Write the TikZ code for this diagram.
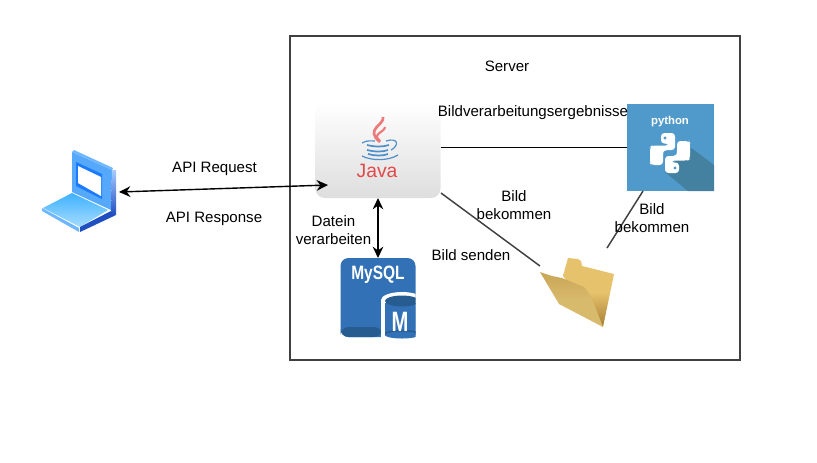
\documentclass[tikz,border=0pt]{standalone}
\usepackage{fontspec}
\setmainfont{Liberation Sans}
\usepackage{xcolor}
\usepackage{tikz}
\usetikzlibrary{
  positioning,
  arrows.meta,
  shadings
}
\definecolor{pyblue}{HTML}{4F99CB}
\definecolor{pyshade}{HTML}{44809F}
\definecolor{sqlblue}{HTML}{3371B7}
\definecolor{sqldark}{HTML}{265C90}
\definecolor{javared}{HTML}{E2494B}
\definecolor{javasteam}{HTML}{EC7A7A}
\definecolor{javablue}{HTML}{4E8FCB}
\definecolor{framegray}{HTML}{404040}
\definecolor{lapframe}{HTML}{55A8FA}
\definecolor{lapinner}{HTML}{1A7BFF}
\definecolor{lapbasetop}{HTML}{3FB2FF}
\definecolor{lapbasebot}{HTML}{A6DCFF}
\definecolor{lapstrip}{HTML}{6EB6FF}
\definecolor{lapdark}{HTML}{1F4FC0}
\definecolor{lapside}{HTML}{A8CBFF}
\definecolor{foldback}{HTML}{E6C26C}
\definecolor{folddark}{HTML}{A67E34}
\definecolor{foldfront}{HTML}{D8BA6C}
\definecolor{foldlow}{HTML}{C9A557}

\begin{document}
\begin{tikzpicture}[
  x=0.75pt,
  y=-0.75pt,
  font=\fontsize{11.3pt}{14pt}\selectfont,
  label/.style={
    align=center,
    inner sep=0pt,
    text=black
  },
  iconbox/.style={
    rectangle,
    inner sep=0pt,
    outer sep=0pt
  },
  arrow/.style={
    {Stealth[length=8.5pt,width=8pt]}-{Stealth[length=8.5pt,width=8pt]},
    line width=1.05pt,
    draw=black
  },
  link/.style={
    line width=1.05pt,
    draw=black
  },
  greylink/.style={
    line width=1.1pt,
    draw=framegray
  }
]

\useasboundingbox (0,0) rectangle (817,462);

\node[iconbox, draw=framegray, line width=1pt, minimum width=337.5pt, minimum height=243pt] (server) at (515,198) {};
\node[label] (servertxt) at (507,66.5) {Server};

\node[iconbox, minimum width=60pt, minimum height=63pt] (laptop) at (79,192) {};
\fill[lapframe] (72,152) -- (112,170) -- (111,210) -- (72,192) -- cycle;
\fill[lapinner] (76,162) -- (102,174) -- (102,199) -- (76,186) -- cycle;
\fill[white] (78,166) -- (101,177) -- (101,196) -- (78,183) -- cycle;
\fill[lapstrip] (74,150) -- (113,168) -- (112,170) -- (72,152) -- cycle;
\shade[top color=lapside, bottom color=lapdark] (112,170) -- (116,170) -- (116,215) -- (111,211) -- cycle;
\shade[top color=lapbasetop, bottom color=lapbasebot] (72,193) -- (108,210) -- (80,227) -- (43,208) -- cycle;
\fill[lapstrip] (42,208) -- (79,228) -- (79,232) -- (42,211) -- cycle;
\fill[lapdark] (80,232) -- (116,215) -- (111,211) -- (80,227) -- cycle;

\node[iconbox, rounded corners=7pt, top color=white, bottom color=black!13, minimum width=93.75pt, minimum height=72pt] (java) at (378,150) {};
\draw[javasteam, line width=2pt] (383,117) .. controls (385,125) and (364,129) .. (380,142);
\draw[javasteam, line width=1.6pt] (385,127) .. controls (385,132) and (371,134) .. (380,141);
\draw[javablue, line width=0.9pt] (362,143) .. controls (367,140) and (372,141) .. (375,141);
\draw[javablue, line width=0.9pt] (386,141) .. controls (399,137) and (399,146) .. (391,150);
\draw[javablue, line width=1.3pt] (367,145) .. controls (375,147) and (383,147) .. (389,145);
\draw[javablue, line width=1.3pt] (367,150) .. controls (375,152) and (383,152) .. (388,150);
\draw[javablue, line width=1.3pt] (368,154) .. controls (375,156) and (383,156) .. (388,154);
\draw[javablue, line width=0.9pt] (362,156) .. controls (372,161) and (388,161) .. (398,155);
\node[label, text=javared, font=\fontsize{14.5pt}{14.5pt}\selectfont] (javatxt) at (377,171) {Java};

\node[iconbox, fill=pyblue, minimum width=65.5pt, minimum height=65pt] (python) at (670.5,147.5) {};
\fill[pyshade] (690,147) -- (714,165) -- (714,191) -- (688,191) -- (665,172) -- cycle;
\node[label, text=white, font=\fontsize{8.5pt}{8.5pt}\selectfont\bfseries] (pythontxt) at (670,122) {python};
\foreach \turn in {0,180}{
  \begin{scope}[rotate around={\turn:(670,153)}]
    \fill[white, rounded corners=2.5pt] (661,133) -- (675,133) -- (675,150) -- (664,150) -- (663,152) -- (663,165) -- (651,165) -- (650,163) -- (650,147) -- (652,145.5) -- (669,145.5) -- (669,143.5) -- (661,143.5) -- cycle;
    \fill[pyblue] (665,138) circle (1.7);
  \end{scope}
}

\node[iconbox, rounded corners=6pt, fill=sqlblue, minimum width=56.25pt, minimum height=59.25pt] (mysql) at (378,297.5) {};
\begin{scope}
  \clip (335,250) rectangle (415.5,345);
  \fill[sqldark, rounded corners=6pt] (340.5,327) -- (340.5,337) -- (382,337) -- (382,327) -- cycle;
  \fill[white] (381,300) rectangle (423,338);
  \fill[white] (402,300) ellipse (21 and 8);
  \fill[sqlblue] (385,303) rectangle (419,335);
  \fill[sqlblue] (402,335) ellipse (17 and 3.5);
  \fill[sqldark] (402,301) ellipse (17 and 5.5);
  \fill[sqldark] (385,333) -- (385,335) arc (180:0:17 and -3.5) -- (419,333) arc (0:180:17 and -3) -- cycle;
\end{scope}
\node[label, text=white, font=\fontsize{14.5pt}{14.5pt}\selectfont\bfseries] (mysqltxt) at (378,275) {\scalebox{0.8}[1]{MySQL}};
\node[label, text=white, font=\fontsize{21pt}{21pt}\selectfont\bfseries] (mtxt) at (400,322) {\scalebox{0.72}[1]{M}};

\node[iconbox, minimum width=55.5pt, minimum height=52.5pt] (folder) at (577,293) {};
\shade[top color=foldback, bottom color=folddark, middle color=foldback] (563,276) -- (568,258) -- (578,259) -- (581,261) -- (582,266) -- (614,274) -- (603,327) -- cycle;
\shade[top color=foldlow, bottom color=foldfront, middle color=foldfront] (540,272) -- (552,276) -- (562,278) -- (584,287) .. controls (592,295) and (596,310) .. (603,327) -- (559,304) -- cycle;

\coordinate (javain) at (328,185);
\coordinate (javaout) at (441,193);
\coordinate (folderin) at (540,266);
\coordinate (folderup) at (607,248);
\coordinate (pythonout) at (643,191);

\draw[arrow] (laptop.east) -- (javain);
\draw[arrow] (java.south) -- (mysql.north);
\draw[link] (java.east |- python.west) -- (python.west);
\draw[greylink] (javaout) -- (folderin);
\draw[greylink] (folderup) -- (pythonout);

\node[label] (requesttxt) at (214.5,168.5) {API Request};
\node[label] (responsetxt) at (214,218.5) {API Response};
\node[label] (dateitxt) at (333.5,230) {Datein\\verarbeiten};
\node[label] (bildtxt) at (533,112.5) {Bildverarbeitungsergebnisse};
\node[label] (sendtxt) at (471,255) {Bild senden};
\node[label] (gettxt) at (514,205) {Bild\\bekommen};
\node[label] (gettwotxt) at (652,218) {Bild\\bekommen};

\end{tikzpicture}
\end{document}
